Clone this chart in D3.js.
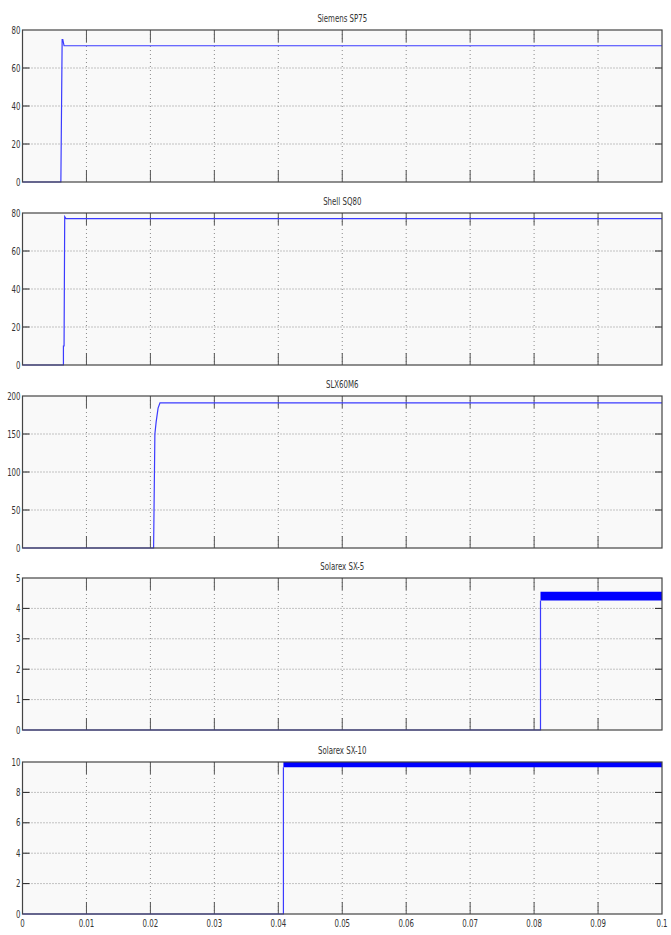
<!DOCTYPE html>
<html>
<head>
<meta charset="utf-8">
<script src="https://cdn.jsdelivr.net/npm/d3@7"></script>
<style>
  body { margin: 0; background: #fff; }
  text { font-family: "Liberation Sans Narrow", "DejaVu Sans Condensed", "Liberation Sans", sans-serif; fill: #333; }
</style>
</head>
<body>
<svg id="chart" width="671" height="935"></svg>
<script>
// the data
const titles = ["Siemens SP75", "Shell SQ80", "SLX60M6", "Solarex SX-5", "Solarex SX-10"];
const yMax = [80, 80, 200, 5, 10];
const yTicks = [
  [0, 20, 40, 60, 80],
  [0, 20, 40, 60, 80],
  [0, 50, 100, 150, 200],
  [0, 1, 2, 3, 4, 5],
  [0, 2, 4, 6, 8, 10]
];
const xTicks = [0, 0.01, 0.02, 0.03, 0.04, 0.05, 0.06, 0.07, 0.08, 0.09, 0.1];
const xTickLabels = ["0", "0.01", "0.02", "0.03", "0.04", "0.05", "0.06", "0.07", "0.08", "0.09", "0.1"];

// traces (time, value)
const siemensT = [0, 0.0060, 0.0062, 0.0063, 0.0065, 0.1];
const siemensV = [0, 0, 75, 75, 71.7, 71.7];
const shellT = [0, 0.0064, 0.0064, 0.0065, 0.0066, 0.0068, 0.1];
const shellV = [0, 0, 10, 10, 78, 77, 77];
const slxT = [0, 0.0205, 0.0207, 0.0209, 0.0212, 0.0215, 0.1];
const slxV = [0, 0, 150, 166, 184, 191, 191];
const sx5T = [0, 0.0810, 0.0810];
const sx5V = [0, 0, 4.26];
const sx10T = [0, 0.0408, 0.0408];
const sx10V = [0, 0, 9.65];

// ripple bands (time, low, high)
const sx5BandT = [0.0810, 0.1];
const sx5BandLow = [4.26, 4.26];
const sx5BandHigh = [4.55, 4.55];
const sx10BandT = [0.0408, 0.1];
const sx10BandLow = [9.65, 9.65];
const sx10BandHigh = [10, 10];

const traces = [
  {t: siemensT, v: siemensV},
  {t: shellT, v: shellV},
  {t: slxT, v: slxV},
  {t: sx5T, v: sx5V, bt: sx5BandT, lo: sx5BandLow, hi: sx5BandHigh},
  {t: sx10T, v: sx10V, bt: sx10BandT, lo: sx10BandLow, hi: sx10BandHigh}
];

// layout
let svg = d3.select("#chart");
const left = 22.5, right = 662;
const tops = [30, 213, 396, 578, 762];
const ph = 152;

let x = d3.scaleLinear().domain([0, 0.1]).range([left, right]);

function label(g, tx, ty, str, anchor) {
  g.append("text")
    .attr("transform", `translate(${tx},${ty}) scale(0.78,1)`)
    .attr("text-anchor", anchor)
    .attr("font-size", 10)
    .text(str);
}

titles.forEach(function (title, i) {
  let top = tops[i];
  let y = d3.scaleLinear().domain([0, yMax[i]]).range([top + ph, top]);
  let g = svg.append("g");

  // plot background
  g.append("rect")
    .attr("x", left).attr("y", top)
    .attr("width", right - left).attr("height", ph)
    .attr("fill", "#f9f9f9");

  // grid
  g.selectAll(".vg").data(xTicks.slice(1, -1)).enter().append("line")
    .attr("x1", d => x(d)).attr("x2", d => x(d))
    .attr("y1", top).attr("y2", top + ph)
    .attr("stroke", "#8a8a8a").attr("stroke-width", 1)
    .attr("stroke-dasharray", "1,3");
  g.selectAll(".hg").data(yTicks[i].slice(1, -1)).enter().append("line")
    .attr("x1", left).attr("x2", right)
    .attr("y1", d => y(d)).attr("y2", d => y(d))
    .attr("stroke", "#8a8a8a").attr("stroke-width", 1)
    .attr("stroke-dasharray", "1,2");

  // ticks (inward, all four sides)
  g.selectAll(".xt").data(xTicks.slice(1, -1)).enter().append("path")
    .attr("d", d => `M${x(d)},${top}v12M${x(d)},${top + ph}v-12`)
    .attr("stroke", "#555").attr("stroke-width", 1);
  g.selectAll(".yt").data(yTicks[i].slice(1, -1)).enter().append("path")
    .attr("d", d => `M${left},${y(d)}h7M${right},${y(d)}h-7`)
    .attr("stroke", "#222").attr("stroke-width", 1);

  // data
  let tr = traces[i];
  if (tr.bt) {
    let area = d3.area()
      .x((d, k) => x(tr.bt[k]))
      .y0((d, k) => y(tr.lo[k]))
      .y1((d, k) => y(tr.hi[k]));
    g.append("path").datum(tr.bt).attr("d", area).attr("fill", "#0000ff");
  }
  let line = d3.line().x((d, k) => x(tr.t[k])).y((d, k) => y(tr.v[k]));
  g.append("path").datum(tr.v).attr("d", line)
    .attr("fill", "none").attr("stroke", "#3b3bff").attr("stroke-width", 1.2);

  // frame
  g.append("rect")
    .attr("x", left).attr("y", top)
    .attr("width", right - left).attr("height", ph)
    .attr("fill", "none").attr("stroke", "#444").attr("stroke-width", 1.2);

  // y labels
  yTicks[i].forEach(function (v) {
    label(g, left - 2, y(v) + 3.5, String(v), "end");
  });

  // title
  label(g, (left + right) / 2, top - 8, title, "middle");

  // x labels on bottom panel
  if (i === titles.length - 1) {
    xTicks.forEach(function (v, k) {
      label(g, x(v), top + ph + 13, xTickLabels[k], "middle");
    });
  }
});
</script>
</body>
</html>
